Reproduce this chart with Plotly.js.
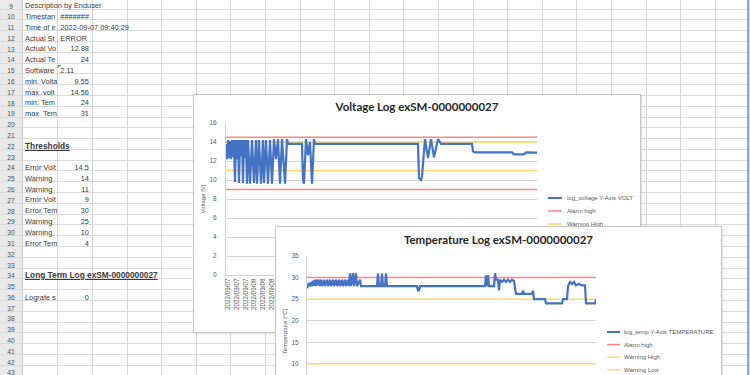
<!DOCTYPE html>
<html><head><meta charset="utf-8">
<script src="https://cdn.plot.ly/plotly-3.0.1.min.js"></script>
<style>
html,body{margin:0;padding:0;width:750px;height:375px;overflow:hidden;background:#fff;font-family:"Liberation Sans",Arial,sans-serif;}
#sheet{position:absolute;left:0;top:0;width:750px;height:375px;overflow:hidden;}
.chartbox{position:absolute;background:#fff;border:1px solid #c4c4c4;box-shadow:1px 1px 2px rgba(0,0,0,0.12);}
.cell{position:absolute;white-space:nowrap;color:#3a3a3a;font-size:7.4px;line-height:9px;}
</style></head>
<body>
<div id="sheet"></div>
<div class="chartbox" style="left:193px;top:94px;"><div id="volt" style="width:446px;height:237px"></div></div>
<div class="chartbox" style="left:275px;top:226px;"><div id="temp" style="width:445px;height:240px"></div></div>
<script>
// ---------- spreadsheet content ----------
const sheetRows   = [9,10,11,12,13,14,15,16,17,18,19,22,24,25,26,27,28,29,30,31,34,36];
const sheetLabels = ["Description by Enduser","Timestan","Time of ir","Actual St","Actual Vo","Actual Te","Software","min. Volta","max. volt","min. Tem","max. Tem","Thresholds","Error Volt","Warning","Warning","Error Volt","Error Tem","Warning","Warning","Error Tem","Long Term Log  exSM-0000000027","Lograte s"];
const sheetValues = ["","#######","2022-09-07 09:40:29","ERROR","12.88","24","2.11","9.55","14.56","24","31","","14.5","14","11","9","30","25","10","4","","0"];
const sheetAlign  = ["","left","left","left","right","right","left","right","right","right","right","","right","right","right","right","right","right","right","right","","right"];

// ---------- chart data ----------
const voltX = [0,1,2,3,4,5,6,7,8,9,10,11,12,13,14,15,16,17,18,19,20,21,22,24,26,28,30,31,33,35,37,38,40,42,44,46,48,50,52,54,56,59,61,62,76,77,78,80,82,84,86,88,89,192,193,195,196,199,202,205,208,212,215,246,247,249,286,288,298,300,311];
const voltY = [13.8,12.2,14.2,12.3,14.1,12.2,14.2,12.4,14.2,9.8,14.2,12.2,14.2,9.7,14.2,12.5,14.2,9.7,14.2,12.3,14.2,9.6,14.2,9.6,14.2,9.7,14.2,9.6,14.2,9.6,14.2,9.7,14.2,9.6,14.2,9.6,14.3,12.2,14.3,9.6,14.3,9.6,14.3,13.8,13.8,10.0,9.6,14.3,12.6,14.0,9.6,14.3,13.8,13.8,10.2,10.0,10.4,14.3,12.3,14.3,12.4,14.3,13.8,13.8,13.0,12.9,12.9,12.7,12.7,12.9,12.88];
const voltTickLabels = ["2022/09/07","2022/09/07","2022/09/07","2022/09/08","2022/09/08","2022/09/08","2022/09/08","2022/09/08","2022/09/08","2022/09/09","2022/09/09","2022/09/09","2022/09/09","2022/09/10","2022/09/10","2022/09/10","2022/09/11","2022/09/11","2022/09/11","2022/09/12","2022/09/12","2022/09/12","2022/09/13","2022/09/13","2022/09/13","2022/09/14","2022/09/14","2022/09/14","2022/09/15","2022/09/15","2022/09/15","2022/09/16","2022/09/16","2022/09/16","2022/09/17","2022/09/17"];
const voltThresholdNames  = ["Alarm high","Warning High","Warning Low","Alarm low"];
const voltThresholdValues = [14.5,14,11,9];

const tempX = [0,2,3,4,5,6,7,8,9,10,11,12,13,14,15,17,18,20,21,23,24,26,27,29,30,32,33,35,36,38,39,41,42,43,44,46,47,49,50,53,54,70,71,72,74,75,76,78,79,80,110,111,112,113,178,179,180,181,182,187,188,189,191,192,193,195,197,199,201,203,205,207,209,215,216,217,225,226,227,238,239,255,256,260,261,263,265,267,269,272,275,278,279,288,289];
const tempY = [27.5,28.8,28.0,29.0,28.0,29.3,28.1,29.5,28.0,29.5,28.2,29.5,28.0,29.5,28.0,29.5,28.0,29.5,28.0,29.5,28.0,29.5,28.0,29.5,28.0,29.5,28.0,29.5,28.0,29.5,28.0,29.5,28.0,31.0,28.0,31.0,28.0,31.0,28.0,29.5,28.0,28.0,31.0,28.0,28.0,31.0,28.0,28.0,31.0,28.0,28.0,27.0,27.0,28.0,28.0,30.5,28.0,30.5,28.0,28.0,31.0,29.5,29.5,27.0,29.5,29.0,29.5,29.0,29.5,29.0,29.5,29.2,26.2,26.2,27.0,26.2,26.2,27.0,25.0,25.0,24.0,24.0,25.0,25.0,28.0,29.0,28.5,29.0,28.2,28.5,28.2,28.2,24.0,24.0,25.0];
const tempThresholdNames  = ["Alarm high","Warning High","Warning Low","Alarm low"];
const tempThresholdValues = [30,25,10,4];

// ---------- styles ----------
const BLUE = "#4472c4", RED = "#ff8585", YEL = "#ffd966";
const thrColors = [RED, YEL, YEL, RED];

// ---------- build spreadsheet backdrop ----------
(function(){
  const sheet = document.getElementById('sheet');
  const pitch = 10.79, firstCenter = 6, hdrW = 22, colX0 = 57.3, colW = 34.6;
  let html = '';
  html += `<div style="position:absolute;left:0;top:0;width:${hdrW}px;height:375px;background:#e9e9e9;border-right:1px solid #c8c8c8"></div>`;
  for (let r = 9; r <= 44; r++) {
    const c = firstCenter + (r-9)*pitch;
    const bottom = c + 2.6;
    html += `<div style="position:absolute;left:0;top:${bottom.toFixed(1)}px;width:750px;height:1px;background:#dadada"></div>`;
    if (r <= 43) html += `<div class="cell" style="left:0;width:${hdrW}px;text-align:center;top:${(c-4.5).toFixed(1)}px;font-size:6.6px;color:#505050">${r}</div>`;
  }
  for (let x = colX0; x < 750; x += colW) {
    html += `<div style="position:absolute;left:${x.toFixed(1)}px;top:0;width:1px;height:375px;background:#d6d6d6"></div>`;
  }
  sheetRows.forEach((r,i)=>{
    const c = firstCenter + (r-9)*pitch;
    const lab = sheetLabels[i];
    const bold = (lab === "Thresholds" || lab.startsWith("Long Term"));
    const clip = sheetValues[i] !== "";
    const st = bold ? 'font-weight:bold;text-decoration:underline;font-size:8.3px;' : '';
    html += `<div class="cell" style="left:25px;top:${(c-4.8).toFixed(1)}px;${clip?'width:32px;overflow:hidden;':''}${st}">${lab}</div>`;
    const v = sheetValues[i];
    if (v) {
      if (sheetAlign[i] === 'right') {
        html += `<div class="cell" style="left:${colX0}px;width:${colW-3}px;text-align:right;top:${(c-4.8).toFixed(1)}px">${v}</div>`;
      } else {
        html += `<div class="cell" style="left:${colX0+3}px;top:${(c-4.8).toFixed(1)}px">${v}</div>`;
      }
      if (v === "2.11") {
        html += `<div style="position:absolute;left:${colX0+1}px;top:${(c-5.5).toFixed(1)}px;width:0;height:0;border-top:3px solid #2e9d4a;border-right:3px solid transparent"></div>`;
      }
    }
  });
  html += `<div style="position:absolute;left:747px;top:0;width:2px;height:375px;background:#8aa5e3"></div>`;
  sheet.innerHTML = html;
})();

// ---------- charts ----------
function legendBits(names, colors, toX, toY, lineX0, lineX1, textX, y0, dy) {
  const shapes = [], annotations = [];
  names.forEach((n,i)=>{
    const y = y0 + i*dy;
    shapes.push({type:'line', xref:'paper', yref:'paper', x0:toX(lineX0), x1:toX(lineX1), y0:toY(y), y1:toY(y), line:{color:colors[i], width:i===0?2:1.5}});
    annotations.push({xref:'paper', yref:'paper', x:toX(textX), y:toY(y), xanchor:'left', yanchor:'middle', showarrow:false, text:n, font:{size:6, color:'#595959'}});
  });
  return {shapes, annotations};
}

// Voltage chart (page coords: inner box at 194,95; plot 226..537 x 123..275)
(function(){
  const W=446,H=237,L=32,R=103,T=28,B=57;
  const pw=W-L-R, ph=H-T-B;
  const toX = px => (px-194-L)/pw, toY = py => 1-(py-95-T)/ph;
  const xr=[voltX[0], voltX[voltX.length-1]];
  const traces = voltThresholdNames.map((n,i)=>({x:xr, y:[voltThresholdValues[i],voltThresholdValues[i]], name:n, mode:'lines', line:{color:thrColors[i], width:1.5}, hoverinfo:'skip'}));
  traces.push({x:voltX, y:voltY, name:'log_voltage Y-Axis VOLT', mode:'lines', line:{color:BLUE, width:2.2}});
  // only the legend rows that are not covered by the temperature chart
  const lg = legendBits(['log_voltage Y-Axis VOLT'].concat(voltThresholdNames.slice(0,2)), [BLUE].concat(thrColors.slice(0,2)), toX, toY, 548, 562, 565, 198, 13);
  const tickvals = voltTickLabels.map((_,i)=>2+i*8.75);
  Plotly.newPlot('volt', traces, {
    width:W, height:H, margin:{l:L,r:R,t:T,b:B,pad:0}, showlegend:false,
    paper_bgcolor:'#fff', plot_bgcolor:'#fff',
    font:{family:'Liberation Sans, Arial, sans-serif', size:6.5, color:'#595959'},
    title:{text:'Voltage Log exSM-0000000027', x:0.5, xref:'container', y:1-12/H, yref:'container', yanchor:'middle', xanchor:'center',
      font:{family:'Lato, Open Sans, sans-serif', size:11.5, color:'#262626', weight:700}},
    xaxis:{range:xr, tickvals:tickvals, ticktext:voltTickLabels, tickangle:-90, showgrid:false, zeroline:false, showline:true, linecolor:'#d4d4d4', ticks:'', tickfont:{size:6.3}},
    yaxis:{range:[0,16], tick0:0, dtick:2, gridcolor:'#d4d4d4', gridwidth:1, showline:true, linecolor:'#d4d4d4', zeroline:false, ticks:'', ticklabelstandoff:7,
      title:{text:'Voltage [V]', font:{size:6}, standoff:3}},
    shapes:lg.shapes, annotations:lg.annotations
  }, {staticPlot:true, displayModeBar:false});
})();

// Temperature chart (inner box at 276,227; plot 307..596 x 256..407)
(function(){
  const W=445,H=240,L=31,R=125,T=29,B=60;
  const pw=W-L-R, ph=H-T-B;
  const toX = px => (px-276-L)/pw, toY = py => 1-(py-227-T)/ph;
  const xr=[tempX[0], tempX[tempX.length-1]];
  const traces = tempThresholdNames.map((n,i)=>({x:xr, y:[tempThresholdValues[i],tempThresholdValues[i]], name:n, mode:'lines', line:{color:thrColors[i], width:1.5}, hoverinfo:'skip'}));
  traces.push({x:tempX, y:tempY, name:'log_temp Y-Axis TEMPERATURE', mode:'lines', line:{color:BLUE, width:2.2}});
  // legend rows visible inside the window
  const lg = legendBits(['log_temp Y-Axis TEMPERATURE'].concat(tempThresholdNames.slice(0,3)), [BLUE].concat(thrColors.slice(0,3)), toX, toY, 607, 620, 622, 332, 12.6);
  Plotly.newPlot('temp', traces, {
    width:W, height:H, margin:{l:L,r:R,t:T,b:B,pad:0}, showlegend:false,
    paper_bgcolor:'#fff', plot_bgcolor:'#fff',
    font:{family:'Liberation Sans, Arial, sans-serif', size:6.5, color:'#595959'},
    title:{text:'Temperature Log exSM-0000000027', x:0.5, xref:'container', y:1-13/H, yref:'container', yanchor:'middle', xanchor:'center',
      font:{family:'Lato, Open Sans, sans-serif', size:11.5, color:'#262626', weight:700}},
    xaxis:{range:xr, showgrid:false, zeroline:false, showline:true, linecolor:'#d4d4d4', ticks:'', showticklabels:false},
    yaxis:{range:[0,35], tick0:0, dtick:5, gridcolor:'#d4d4d4', gridwidth:1, showline:true, linecolor:'#d4d4d4', zeroline:false, ticks:'', ticklabelstandoff:6,
      title:{text:'Temperature [°C]', font:{size:6}, standoff:3}},
    shapes:lg.shapes, annotations:lg.annotations
  }, {staticPlot:true, displayModeBar:false});
})();
</script>
</body></html>
